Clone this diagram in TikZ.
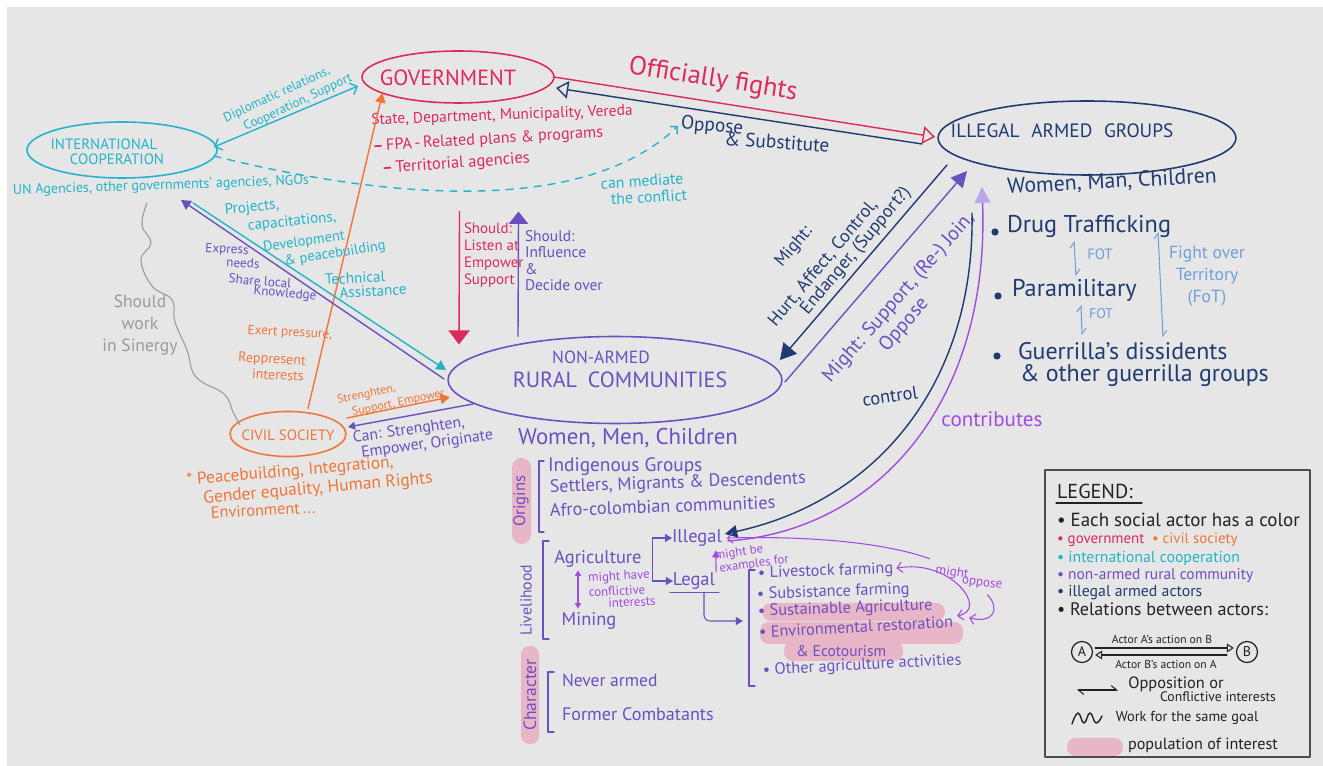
\documentclass[tikz,border=0pt]{standalone}
\usepackage{fontspec}
\setmainfont{PT Sans}
\usetikzlibrary{shapes.geometric,arrows.meta,calc}

\definecolor{paper}{HTML}{E6E6E6}
\definecolor{govc}{HTML}{DC2A5C}
\definecolor{civc}{HTML}{F07638}
\definecolor{intc}{HTML}{22B4C8}
\definecolor{rurc}{HTML}{6B50C0}
\definecolor{illc}{HTML}{1F3B70}
\definecolor{fotc}{HTML}{6F9FD8}
\definecolor{vioc}{HTML}{A24BE0}
\definecolor{lilc}{HTML}{B9A9EA}
\definecolor{grayc}{HTML}{9A9A9A}
\definecolor{pinkc}{HTML}{E9B6C8}
\definecolor{inkc}{HTML}{222222}

\newcommand\fz[2]{\fontsize{#1}{#2}\selectfont}

\tikzset{
  lbl/.style={inner sep=0pt, outer sep=0pt, align=center},
  lw/.style={lbl, anchor=west, align=left},
  actor/.style={ellipse, draw, line width=0.9pt, inner sep=0pt, outer sep=0pt},
  rel/.style={line width=0.8pt},
  thinrel/.style={line width=0.6pt},
  tip/.style={arrows={-Triangle[length=5.5pt,width=6pt]}},
  smalltip/.style={arrows={-Triangle[length=4pt,width=4.5pt]}},
  opentip/.style={arrows={-Triangle[open,length=7pt,width=10pt]}},
  barb/.style={arrows={-Straight Barb[length=3pt,width=6pt]}},
  harp/.style={arrows={Straight Barb[harpoon,length=3pt,width=5pt]-Straight Barb[harpoon,length=3pt,width=5pt]}},
}

\begin{document}
\begin{tikzpicture}[x=0.02cm, y=-0.02cm, line cap=round, line join=round]
\useasboundingbox (0,0) rectangle (1323,766);
\fill[white] (0,0) rectangle (1323,766);
\fill[paper] (7,7) rectangle (1323,766);

% ---------- Government
\node[actor, draw=govc, minimum width=3.84cm, minimum height=1.04cm] (gov) at (458,77) {};
\node[lbl, text=govc, font=\fz{12.5}{14}] (govname) at (448,78) {GOVERNMENT};
\node[lbl, text=govc, font=\fz{8.8}{10}, rotate=2] (state) at (502,116) {State, Department, Municipality, Vereda};
\node[lbl, text=govc, font=\fz{9.2}{10}, rotate=3.5] (fpa) at (488,140) {{\bfseries –}\,FPA\,-\,Related plans \& programs};
\node[lbl, text=govc, font=\fz{9.4}{10}, rotate=4] (terr) at (456,164) {{\bfseries –}\,Territorial agencies};

% ---------- International cooperation
\node[actor, draw=intc, minimum width=3.8cm, minimum height=1.12cm] (ic) at (122,150) {};
\node[lbl, text=intc, font=\fz{8.5}{10}] at (104,144) {INTERNATIONAL};
\node[lbl, text=intc, font=\fz{8.5}{10}] at (117,159) {COOPERATION};
\node[lbl, text=intc, font=\fz{8}{9}, rotate=2] (icsub) at (161,186) {UN Agencies, other governments' agencies, NGOs};

% ---------- Illegal armed groups
\node[actor, draw=illc, minimum width=5.96cm, minimum height=1.48cm] (illegal) at (1087,138) {};
\node[lbl, text=illc, font=\fz{11}{12}] at (1062,131) {ILLEGAL\hspace{0.6em}ARMED\hspace{0.6em}GROUPS};
\node[lbl, text=illc, font=\fz{12.4}{13}, rotate=3] at (1112,182) {Women, Man, Children};

% ---------- Non-armed rural communities
\node[actor, draw=rurc, minimum width=6.68cm, minimum height=1.74cm] (rural) at (615,380) {};
\node[lbl, text=rurc, font=\fz{10}{11}] at (601,357) {NON-ARMED};
\node[lbl, text=rurc, font=\fz{12.5}{14}] at (620,380) {RURAL\hspace{0.5em}COMMUNITIES};
\node[lbl, text=rurc, font=\fz{13}{15}] (people) at (628,438) {Women, Men, Children};

% ---------- Civil society
\node[actor, draw=civc, minimum width=2.32cm, minimum height=0.9cm] (cs) at (288,434) {};
\node[lbl, text=civc, font=\fz{8.5}{10}] at (288,435) {CIVIL SOCIETY};
\node[lbl, text=civc, font=\fz{9.8}{10}, rotate=5] at (290,472) {* Peacebuilding, Integration,};
\node[lbl, text=civc, font=\fz{9.9}{10}, rotate=5] at (318,489) {Gender equality, Human Rights};
\node[lbl, text=civc, font=\fz{9.3}{10}, rotate=3] at (263,510) {Environment\,...};

% ---------- Government and illegal armed groups
\draw[rel, govc, opentip] (gov.east) -- ($(illegal.west)+(-3,-1)$);
\draw[rel, illc, opentip] ($(illegal.west)+(-16,6)$) -- ($(gov.east)+(2,11)$);
\node[lbl, text=govc, font=\fz{15}{17}, rotate=-9] at (713,80) {Officially fights};
\node[lbl, anchor=west, text=illc, font=\fz{11}{12}, rotate=-5] (oppose) at (681,124) {Oppose};
\node[lbl, text=illc, font=\fz{11}{12}, rotate=-4] at (777,142) {\& Substitute};

% ---------- International cooperation and government
\draw[rel, intc, arrows={Straight Barb[length=3.5pt,width=7pt]-Straight Barb[length=3.5pt,width=7pt]}] ($(ic.east)+(-3,-3)$) -- ($(gov.west)+(-4,9)$);
\node[lbl, text=intc, font=\fz{7.4}{8}, rotate=25] at (277,95) {Diplomatic relations,};
\node[lbl, text=intc, font=\fz{7.4}{8}, rotate=25] at (298,103) {Cooperation, Support};

% mediation (dashed)
\draw[rel, intc, dash pattern=on 4pt off 4pt, barb] ($(ic.east)+(-3,6)$) .. controls (390,200) and (585,215) .. ($(oppose.west)+(-3,2)$);
\node[lbl, text=intc, font=\fz{9}{10}, rotate=4] at (642,181) {can mediate};
\node[lbl, text=intc, font=\fz{9}{10}, rotate=3] at (649,197) {the conflict};

% ---------- Civil society and government
\draw[rel, civc, tip] ($(cs.north)+(20,-3)$) -- (gov.-168);
\node[lbl, text=civc, font=\fz{7.6}{9}, rotate=-3] at (290,333) {Exert pressure,};
\node[lbl, text=civc, font=\fz{8}{9}, rotate=-3] at (272,360) {Reppresent};
\node[lbl, text=civc, font=\fz{8}{9}, rotate=-3] at (278,375) {interests};

% ---------- International cooperation and rural communities
\draw[rel, intc, tip] ($(ic.south)+(71,25)$) -- ($(rural.west)+(-2,-10)$);
\draw[rel, rurc, tip] ($(rural.west)+(-4,-1)$) -- ($(ic.south)+(59,22)$);
\node[lbl, text=intc, font=\fz{8.6}{10}, rotate=6] at (252,208) {Projects,};
\node[lbl, text=intc, font=\fz{8.6}{10}, rotate=6] at (292,222) {capacitations,};
\node[lbl, text=intc, font=\fz{8.2}{10}, rotate=8] at (304,242) {Development};
\node[lbl, text=intc, font=\fz{8.2}{10}, rotate=9] at (335,254) {\& peacebuilding};
\node[lbl, text=intc, font=\fz{8.6}{10}, rotate=3] at (355,278) {Technical};
\node[lbl, text=intc, font=\fz{8.6}{10}, rotate=3] at (373,291) {Assistance};
\node[lbl, text=rurc, font=\fz{7.5}{9}, rotate=-3] at (227,250) {Express};
\node[lbl, text=rurc, font=\fz{7.5}{9}, rotate=-3] at (243,263) {needs};
\node[lbl, text=rurc, font=\fz{7.5}{9}, rotate=-5] at (260,281) {Share local};
\node[lbl, text=rurc, font=\fz{7.5}{9}, rotate=-5] at (285,294) {Knowledge};

% ---------- Should work in synergy (civil society and international cooperation)
\draw[thinrel, grayc] plot[smooth, tension=0.7] coordinates {(147,203) (142,225) (151,243) (141,260) (152,286) (172,300) (175,322) (187,350) (196,377) (224,394) (233,412) (240,425)};
\node[lbl, text=grayc, font=\fz{10}{12.5}] at (140,325) {Should\\work\\in Sinergy};

% ---------- Civil society and rural communities
\draw[rel, civc, tip] ($(cs.east)+(1,-16)$) -- ($(rural.west)+(2,17)$);
\draw[rel, rurc, smalltip] ($(rural.west)+(25,24)$) -- ($(cs.east)+(2,-7)$);
\node[lbl, align=left, text=civc, font=\fz{6.8}{8.5}, rotate=12] at (391,397) {Strenghten,\\\hspace*{1em}Support, Empower};
\node[lbl, align=left, text=rurc, font=\fz{9}{8}, rotate=8] at (423,437) {Can: Strenghten,\\\hspace*{0.4em}Empower, Originate};

% ---------- Government and rural communities
\draw[rel, govc, arrows={-Triangle[length=8pt,width=12pt]}] ($(terr.south)+(3,40)$) -- ($(rural.north)+(-156,8)$);
\draw[rel, rurc, arrows={-Triangle[length=7pt,width=11pt]}] ($(rural.north)+(-97,0)$) -- ($(terr.south)+(62,40)$);
\node[lbl, anchor=north west, align=left, text=govc, font=\fz{8.5}{9.7}] at (464,223) {Should:\\Listen at\\Empower\\Support};
\node[lbl, anchor=north west, align=left, text=rurc, font=\fz{8.8}{9.4}] at (525,230) {Should:\\Influence\\\&\\Decide over};

% ---------- Illegal armed groups and rural communities
\draw[rel, illc, arrows={-Triangle[length=9pt,width=10pt]}] ($(illegal.south)+(-140,-10)$) -- ($(rural.east)+(-2,-20)$);
\draw[rel, rurc, arrows={-Triangle[length=9pt,width=9pt]}] ($(rural.east)+(3,2)$) -- ($(illegal.south)+(-120,-4)$);
\node[lbl, text=illc, font=\fz{10}{11}, rotate=50] at (794,247) {Might:};
\node[lbl, text=illc, font=\fz{10.3}{11}, rotate=50] at (823,263) {Hurt, Affect, Control,};
\node[lbl, text=illc, font=\fz{10.3}{11}, rotate=50] at (856,251) {Endanger, (Support?)};
\node[lbl, text=rurc, font=\fz{11.3}{12.5}, rotate=49] at (907,305) {Might: Support, (Re-) Join,\\Oppose\hspace*{1.7em}};

% ---------- Livelihood of the rural communities
\node[lbl, text=rurc, font=\fz{10.5}{12}] (agri) at (598,559) {Agriculture};
\node[lbl, text=rurc, font=\fz{10.5}{12}] (mining) at (589,621) {Mining};
\node[lbl, text=rurc, font=\fz{10.5}{12}] (illeg) at (697,538) {Illegal};
\node[lbl, text=rurc, font=\fz{10.5}{12}] (leg) at (694,581) {Legal};

% control / contributes
\draw[rel, illc, arrows={-Triangle[length=7pt,width=7pt]}] ($(illegal.south)+(-115,38)$) .. controls (975,380) and (880,500) .. ($(illeg.east)+(3,-4)$);
\draw[rel, vioc, arrows={-Triangle[length=9pt,width=9pt,color=lilc]}] ($(illeg.east)+(6,3)$) .. controls (880,530) and (990,400) .. ($(illegal.south)+(-105,12)$);
\node[lbl, text=illc, font=\fz{10.5}{12}, rotate=8] at (890,396) {control};
\node[lbl, text=vioc, font=\fz{12}{14}] at (992,419) {contributes};

% ---------- Armed groups list
\fill[illc] (995,232) circle (3.6);
\fill[illc] (998,296) circle (3.6);
\fill[illc] (997,356) circle (3.6);
\node[lw, text=illc, font=\fz{13.8}{15}] (drug) at (1007,226) {Drug Trafficking};
\node[lw, text=illc, font=\fz{13.8}{15}] (para) at (1012,290) {Paramilitary};
\node[lw, text=illc, font=\fz{13.6}{15}] (guer) at (1018,351) {Guerrilla's dissidents};
\node[lw, text=illc, font=\fz{13.6}{15}] (guer2) at (1020,376) {\& other guerrilla groups};
\draw[thinrel, fotc, harp] (1074,241) -- (1076,276);
\draw[thinrel, fotc, harp] (1081,305) -- (1082,335);
\draw[thinrel, fotc, harp] (1158,232) -- (1163,337);
\node[lbl, text=fotc, font=\fz{8.5}{10}] at (1100,254) {FOT};
\node[lbl, text=fotc, font=\fz{8}{10}] at (1101,314) {FOT};
\node[lbl, text=fotc, font=\fz{10}{12.5}] at (1207,276) {Fight over\\Territory\\(FoT)};

% ---------- Rural community details
\fill[pinkc, rounded corners=0.19cm] (512,458) rectangle (531,544);
\node[lbl, text=rurc, rotate=90, font=\fz{9.5}{11}] at (521,501) {Origins};
\draw[thinrel, rurc] (544,461) -- (539,461) -- (539,532) -- (544,532);
\node[lw, text=rurc, font=\fz{11}{12}] at (548,467) {Indigenous Groups};
\node[lw, text=rurc, font=\fz{10.2}{12}, rotate=2] at (550,488) {Settlers, Migrants \& Descendents};
\node[lw, text=rurc, font=\fz{10.4}{12}, rotate=2] at (550,510) {Afro-colombian communities};

\node[lbl, text=rurc, rotate=90, font=\fz{9}{10}] at (526,600) {Livelihood};
\draw[thinrel, rurc] (549,541) -- (543,541) -- (543,639) -- (549,639);
\draw[thinrel, rurc, smalltip] ($(agri.east)+(11,0)$) |- (illeg.west);
\draw[thinrel, rurc, smalltip] ($(agri.east)+(11,0)$) |- (leg.west);
\draw[thinrel, vioc, arrows={Triangle[length=3pt,width=3.5pt]-Triangle[length=3pt,width=3.5pt]}] ($(agri.south)+(-20,3)$) -- ($(mining.north)+(-11,-4)$);
\node[lbl, text=vioc, font=\fz{7.3}{8}, rotate=3] at (619,577) {might have};
\node[lbl, text=vioc, font=\fz{7.3}{8}, rotate=3] at (617,591) {conflictive};
\node[lbl, text=vioc, font=\fz{7.3}{8}, rotate=3] at (632,602) {interests};
\draw[thinrel, rurc] ($(leg.south west)+(-3,3)$) -- ($(leg.south east)+(4,3)$);
\coordinate (listbr) at (743,621);
\draw[thinrel, rurc, smalltip, rounded corners=0.12cm] ($(leg.south)+(10,3)$) |- (listbr);
\draw[thinrel, vioc, smalltip] ($(leg.north east)+(1,-1)$) -- ($(illeg.south east)+(-6,4)$);
\node[lbl, align=left, text=vioc, font=\fz{7.2}{6}, rotate=8] at (752,558) {might be\\\hspace*{0.2em}examples for};

% legal activities (highlighted: population of interest)
\fill[pinkc, rounded corners=0.18cm] (762,603) rectangle (945,621);
\fill[pinkc, rounded corners=0.18cm] (760,622) rectangle (963,644);
\fill[pinkc, rounded corners=0.18cm] (784,641) rectangle (903,661);
\draw[thinrel, rurc] (755,570) -- (749,570) -- (749,686) -- (755,686);
\node[lw, text=rurc, font=\fz{9.3}{10}, rotate=2] (live) at (758,574) {• Livestock farming};
\node[lw, text=rurc, font=\fz{9.3}{10}, rotate=2] at (757,595) {• Subsistance farming};
\node[lw, text=rurc, font=\fz{9.3}{10}, rotate=2] at (758,612) {• Sustainable Agriculture};
\node[lw, text=rurc, font=\fz{9.3}{10}, rotate=3] (envr) at (759,632) {• Environmental restoration};
\node[lw, text=rurc, font=\fz{8.8}{10}] at (796,651) {\& Ecotourism};
\node[lw, text=rurc, font=\fz{9.3}{10}, rotate=3] at (763,671) {• Other agriculture activities};

% might oppose
\node[lbl, text=vioc, font=\fz{7.5}{8}, rotate=-8] (mopp1) at (952,573) {might};
\node[lbl, text=vioc, font=\fz{7.5}{8}, rotate=-8] (mopp2) at (982,584) {oppose};
\draw[thinrel, vioc, barb] ($(mopp1.west)+(-6,-12)$) .. controls (880,541) and (800,536) .. ($(illeg.east)+(5,0)$);
\draw[thinrel, vioc, arrows={Straight Barb[length=3pt,width=6pt]-Straight Barb[length=3pt,width=6pt]}] ($(live.east)+(3,-1)$) .. controls (950,558) and (990,610) .. ($(envr.east)+(4,-6)$);
\draw[thinrel, vioc, barb] ($(mopp2.south)+(6,6)$) .. controls (1000,608) and (995,624) .. ($(envr.east)+(16,-4)$);

% character
\fill[pinkc, rounded corners=0.17cm] (521,646) rectangle (539,744);
\node[lbl, text=rurc, rotate=90, font=\fz{10}{11}] at (530,695) {Character};
\draw[thinrel, rurc] (554,672) -- (548,672) -- (548,732) -- (554,732);
\node[lw, text=rurc, font=\fz{10}{12}] at (562,680) {Never armed};
\node[lw, text=rurc, font=\fz{10.3}{12}] at (562,714) {Former Combatants};

% ---------- Legend
\draw[line width=1pt, black!70] (1045,470) rectangle (1310,757);
\node[lw, text=inkc, font=\fz{11.5}{13}] at (1057,491) {LEGEND:};
\draw[thinrel, inkc] (1056,503) -- (1142,503);
\node[lw, text=inkc, font=\fz{10.8}{12}] at (1057,520) {• Each social actor has a color};
\node[lw, text=govc, font=\fz{8.5}{10}] at (1057,540) {• government};
\node[lw, text=civc, font=\fz{8.5}{10}] at (1152,540) {• civil society};
\node[lw, text=intc, font=\fz{9}{10}] at (1057,558) {• international cooperation};
\node[lw, text=rurc, font=\fz{8.8}{10}] at (1057,576) {• non-armed rural community};
\node[lw, text=illc, font=\fz{9}{10}] at (1057,593) {• illegal armed actors};
\node[lw, text=inkc, font=\fz{10.3}{11}] at (1057,609) {• Relations between actors:};
\node[circle, draw=inkc, text=inkc, line width=0.7pt, minimum size=0.42cm, inner sep=0pt, font=\fz{8}{9}] (la) at (1082,652) {A};
\node[circle, draw=inkc, text=inkc, line width=0.7pt, minimum size=0.42cm, inner sep=0pt, font=\fz{8}{9}] (lb) at (1247,652) {B};
\draw[thinrel, inkc, arrows={-Triangle[open,length=4pt,width=5pt]}] ($(la.east)+(2,-4)$) -- ($(lb.west)+(-2,-4)$);
\draw[thinrel, inkc, arrows={-Triangle[open,length=4pt,width=5pt]}] ($(lb.west)+(-9,3)$) -- ($(la.east)+(2,3)$);
\node[lbl, text=inkc, font=\fz{6.6}{8}] at (1162,639) {Actor A's action on B};
\node[lbl, text=inkc, font=\fz{6.6}{8}] at (1166,664) {Actor B's action on A};
\draw[thinrel, inkc, harp] (1077,690) -- (1118,690);
\node[lbl, text=inkc, font=\fz{9.3}{10}] at (1176,684) {Opposition or};
\node[lbl, text=inkc, font=\fz{7.8}{10}] at (1218,697) {Conflictive interests};
\draw[line width=0.8pt, inkc] plot[smooth, tension=0.8] coordinates {(1072,724) (1078,713) (1084,723) (1090,713) (1096,723) (1102,716)};
\node[lbl, text=inkc, font=\fz{8.2}{10}] at (1187,718) {Work for the same goal};
\fill[pinkc, rounded corners=0.17cm] (1067,738) rectangle (1123,756);
\node[lbl, text=inkc, font=\fz{9.2}{10}] at (1203,745) {population of interest};

\end{tikzpicture}
\end{document}
